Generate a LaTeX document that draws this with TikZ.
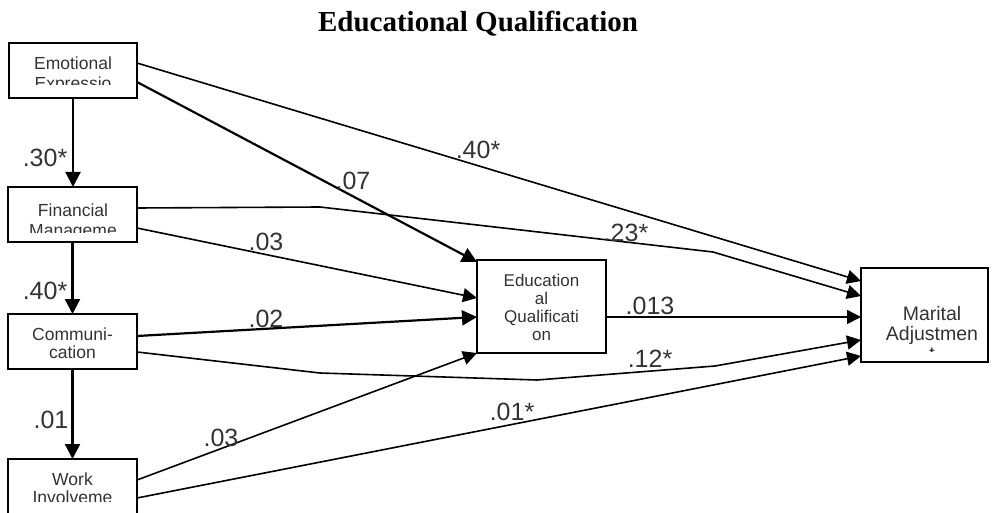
\documentclass[tikz,border=0pt]{standalone}
\usepackage{fontspec}
\setmainfont{Liberation Serif}
\setsansfont{Liberation Sans}
\usetikzlibrary{arrows.meta,calc}
\begin{document}
\begin{tikzpicture}[x=1pt,y=-1pt,
  box/.style={draw, line width=1.8pt, inner sep=0pt, outer sep=0pt},
  btext/.style={font=\fontsize{17.5}{19}\selectfont\sffamily, text=black!80, align=center, inner sep=0pt},
  lbl/.style={font=\fontsize{25}{25}\selectfont\sffamily, text=black!80, inner sep=0pt},
  arr/.style={line width=1.6pt, -{Triangle[length=14pt,width=14pt]}},
  tarr/.style={line width=2.2pt, -{Triangle[length=15pt,width=15pt]}},
  ]
\useasboundingbox (0,0) rectangle (992,513);

\node[font=\fontsize{29}{29}\selectfont\bfseries] (title) at (478,24) {Educational Qualification};

\node[box, minimum width=128pt, minimum height=55pt] (emo) at (73,70.5) {};
\node[box, minimum width=129pt, minimum height=55pt] (fin) at (72.5,214.5) {};
\node[box, minimum width=129pt, minimum height=55pt] (com) at (72.5,341.5) {};
\node[box, minimum width=129pt, minimum height=55pt] (wrk) at (72.5,486.5) {};
\node[box, minimum width=129pt, minimum height=93pt] (edu) at (541.5,306.5) {};
\node[box, minimum width=127pt, minimum height=94pt] (mar) at (924.5,315) {};

\begin{scope}
\clip (emo.north west) rectangle ($(emo.south east)+(0,-13)$);
\node[btext, anchor=base, font=\fontsize{17.5}{20}\selectfont\sffamily] (emot) at (73,90) {Emotional\\Expressio};
\end{scope}
\begin{scope}
\clip (fin.north west) rectangle ($(fin.south east)+(0,-10)$);
\node[btext, anchor=base, font=\fontsize{17.5}{20}\selectfont\sffamily] (fint) at (73,236) {Financial\\Manageme};
\end{scope}
\node[btext, anchor=base, font=\fontsize{17.5}{18}\selectfont\sffamily] (comt) at (72.5,358) {Communi-\\cation};
\begin{scope}
\clip (wrk.north west) rectangle ($(wrk.south east)+(0,-13)$);
\node[btext, anchor=base, font=\fontsize{17.5}{18}\selectfont\sffamily] (wrkt) at (72.5,503) {Work\\Involveme};
\end{scope}
\node[btext, anchor=base, font=\fontsize{17}{18}\selectfont\sffamily] (edut) at (541.5,340) {Education\\al\\Qualificati\\on};
\begin{scope}
\clip (mar.north west) rectangle ($(mar.south east)+(0,-11)$);
\node[btext, anchor=base, font=\fontsize{19.5}{20}\selectfont\sffamily] (mart) at (932,360) {Marital\\Adjustmen\\t};
\end{scope}

% vertical paths
\draw[tarr] (emo.south) -- (emo.south |- fin.north);
\draw[tarr] (fin.south) -- (fin.south |- com.north);
\draw[tarr] (com.south) -- (com.south |- wrk.north);

% diagonal paths
\draw[arr] ($(emo.north east)+(0,20)$) -- ($(mar.north west)+(0,13)$);
\draw[tarr] ($(emo.north east)+(0,39)$) -- ($(edu.north west)+(0,2)$);
\draw[arr] ($(fin.north east)+(0,21)$) -- (320,207) -- (713,252) -- ($(mar.north west)+(0,28)$);
\draw[arr] ($(fin.north east)+(0,41)$) -- ($(edu.north west)+(0,38)$);
\draw[tarr] ($(com.north east)+(0,22)$) -- ($(edu.north west)+(0,57)$);
\draw[arr] ($(com.north east)+(0,38)$) -- (320,373) -- (537,380) -- (715,366) -- ($(mar.north west)+(0,72)$);
\draw[arr] ($(edu.north east)+(0,57)$) -- ($(mar.north west)+(0,49)$);
\draw[arr] ($(wrk.north east)+(0,21)$) -- (edu.south west);
\draw[arr] ($(wrk.north east)+(0,39)$) -- ($(mar.south west)+(0,-6)$);

% labels
\node[lbl] (l1) at (45,158) {.30*};
\node[lbl] (l2) at (45,291) {.40*};
\node[lbl] (l3) at (51,420) {.01};
\node[lbl] (l4) at (478,150) {.40*};
\node[lbl] (l5) at (353,181) {.07};
\node[lbl] (l6) at (626,233) {.23*};
\node[lbl] (l7) at (266,242) {.03};
\node[lbl] (l8) at (266,319) {.02};
\node[lbl] (l9) at (650,306) {.013};
\node[lbl] (l10) at (650,359) {.12*};
\node[lbl] (l11) at (512,412) {.01*};
\node[lbl] (l12) at (221,438) {.03};
\end{tikzpicture}
\end{document}
